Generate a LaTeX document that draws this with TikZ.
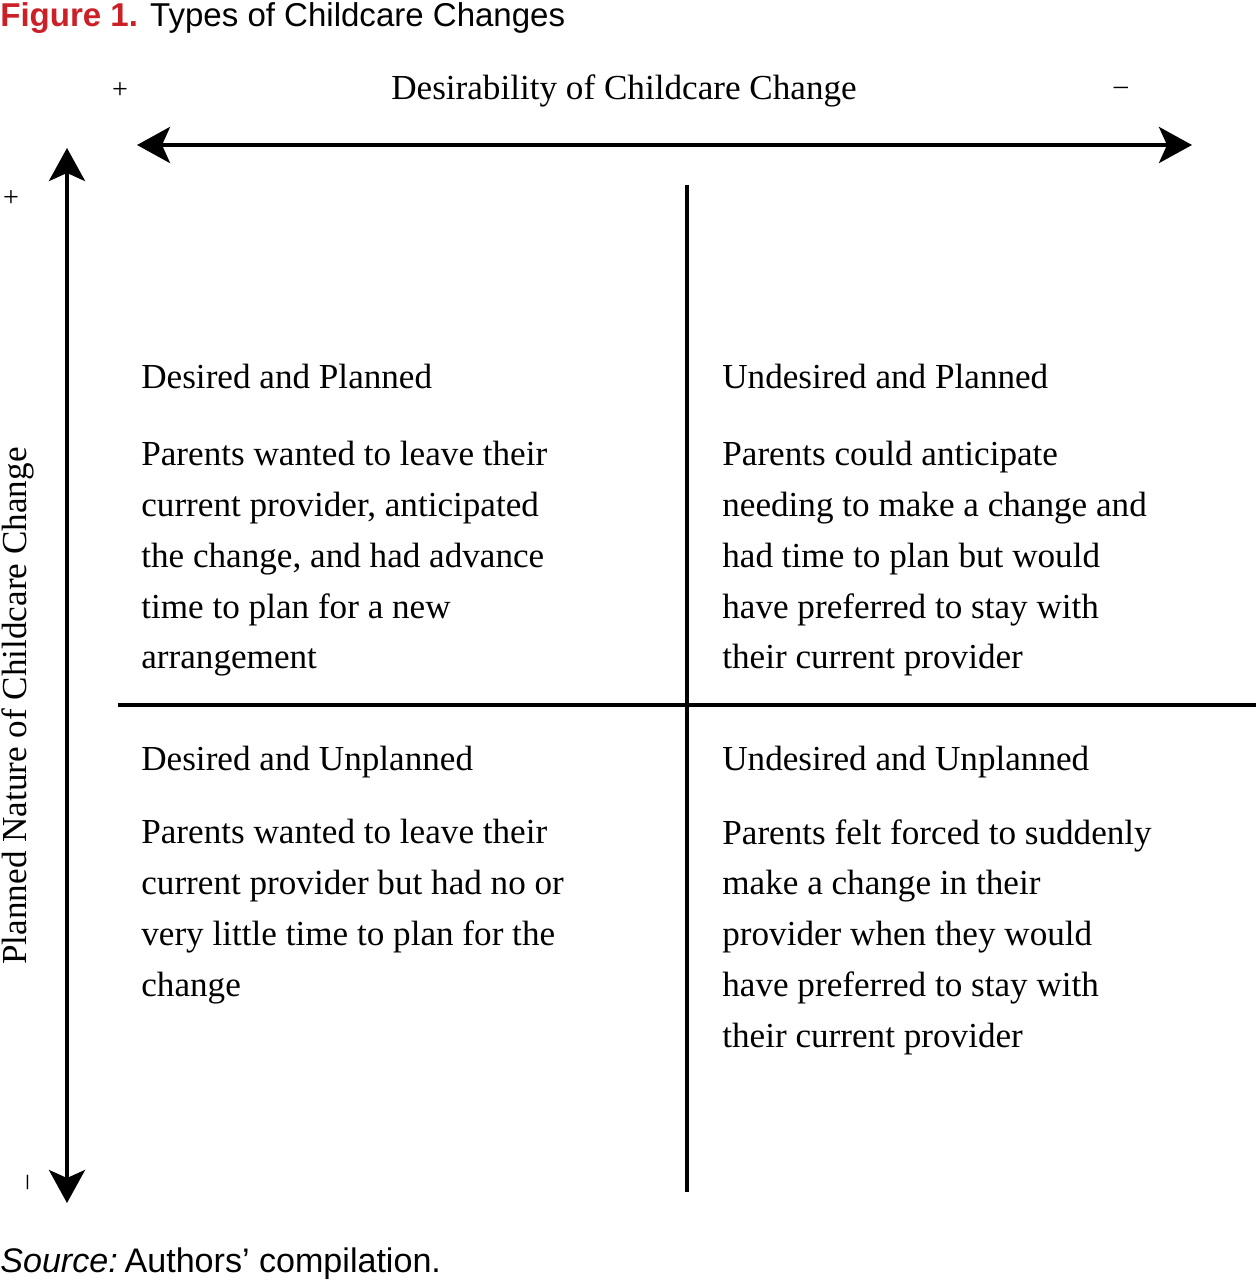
\documentclass[tikz,border=0pt]{standalone}
\usepackage{fontspec}
\setmainfont{Liberation Serif}
\setsansfont{Liberation Sans}
\usetikzlibrary{arrows.meta}
\definecolor{figred}{RGB}{204,32,39}

\begin{document}
\begin{tikzpicture}[x=0.02cm, y=-0.02cm,
    axis/.style={line width=2.4pt, {Stealth[length=0.66cm, width=0.72cm, inset=0.16cm]}-{Stealth[length=0.66cm, width=0.72cm, inset=0.16cm]}},
    divider/.style={line width=2.2pt},
    quadhead/.style={anchor=north west, inner sep=0pt, font=\fontsize{20}{29}\selectfont},
    quadbody/.style={anchor=north west, inner sep=0pt, align=left, font=\fontsize{20}{28.9}\selectfont},
    sign/.style={inner sep=0pt, font=\fontsize{16}{18}\selectfont}]
    \useasboundingbox (0,0) rectangle (1256,1280);
    % title and source
    \node[anchor=north west, inner sep=0pt, font=\sffamily\fontsize{18.8}{22}\selectfont] (title) at (0,2) {\textcolor{figred}{\bfseries Figure 1.} Types of Childcare Changes};
    \node[anchor=base west, inner sep=0pt, font=\sffamily\fontsize{19.4}{22}\selectfont] (source) at (0,1272) {\textit{Source:}\hspace{0.2em}Authors’ compilation.};
    % axes
    \coordinate (hleft) at (137,145); \coordinate (hright) at (1192,145);
    \coordinate (vtop) at (67,148); \coordinate (vbot) at (67,1203);
    \draw[axis] (hleft) -- (hright);
    \draw[axis] (vbot) -- (vtop);
    \node[font=\fontsize{20}{24}\selectfont] (xlabel) at (624,91) {Desirability of Childcare Change};
    \node[font=\fontsize{20}{24}\selectfont, rotate=90] (ylabel) at (18,706) {Planned Nature of Childcare Change};
    \node[sign] (xplus) at (120,91) {+}; \node[sign] (xminus) at (1121,91) {–};
    \node[sign] (yplus) at (11,199) {+}; \node[sign, rotate=90] (yminus) at (31,1182) {–};
    % quadrant lines
    \coordinate (vdtop) at (687,185); \coordinate (vdbot) at (687,1192);
    \coordinate (hdleft) at (118,705); \coordinate (hdright) at (1256,705);
    \draw[divider] (vdtop) -- (vdbot);
    \draw[divider] (hdleft) -- (hdright);
    % quadrants
    \node[quadhead] (dphead) at (141,364) {Desired and Planned};
    \node[quadbody] (dpbody) at (141,441) {Parents wanted to leave their\\current provider, anticipated\\the change, and had advance\\time to plan for a new\\arrangement};
    \node[quadhead] (uphead) at (722,364) {Undesired and Planned};
    \node[quadbody] (upbody) at (722,441) {Parents could anticipate\\needing to make a change and\\had time to plan but would\\have preferred to stay with\\their current provider};
    \node[quadhead] (duhead) at (141,746) {Desired and Unplanned};
    \node[quadbody] (dubody) at (141,819) {Parents wanted to leave their\\current provider but had no or\\very little time to plan for the\\change};
    \node[quadhead] (uuhead) at (722,746) {Undesired and Unplanned};
    \node[quadbody] (uubody) at (722,819) {Parents felt forced to suddenly\\make a change in their\\provider when they would\\have preferred to stay with\\their current provider};
\end{tikzpicture}
\end{document}
